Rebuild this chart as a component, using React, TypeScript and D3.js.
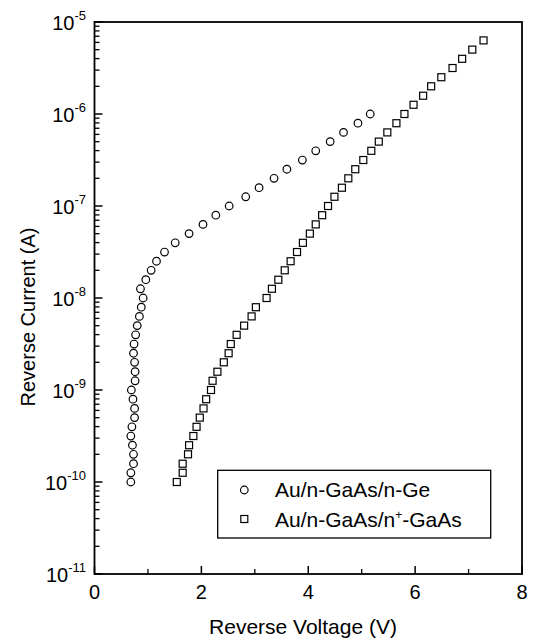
import React from "react";
import * as d3 from "d3";

// Au/n-GaAs/n-Ge (circles)
const geVoltage = [
  0.68, 0.68, 0.73, 0.73, 0.71, 0.68, 0.7, 0.75, 0.75, 0.72, 0.69, 0.76, 0.76,
  0.75, 0.73, 0.74, 0.77, 0.8, 0.84, 0.875, 0.91, 0.86, 0.96, 1.06, 1.16, 1.31,
  1.51, 1.77, 2.03, 2.27, 2.52, 2.83, 3.08, 3.36, 3.6, 3.89, 4.14, 4.41, 4.66,
  4.93, 5.16,
];
const geCurrent = [
  1.0e-10, 1.26e-10, 1.58e-10, 2.0e-10, 2.51e-10, 3.16e-10, 3.98e-10, 5.01e-10,
  6.31e-10, 7.94e-10, 1.0e-9, 1.26e-9, 1.58e-9, 2.0e-9, 2.51e-9, 3.16e-9,
  3.98e-9, 5.01e-9, 6.31e-9, 7.94e-9, 1.0e-8, 1.26e-8, 1.58e-8, 2.0e-8,
  2.51e-8, 3.16e-8, 3.98e-8, 5.01e-8, 6.31e-8, 7.94e-8, 1.0e-7, 1.26e-7,
  1.58e-7, 2.0e-7, 2.51e-7, 3.16e-7, 3.98e-7, 5.01e-7, 6.31e-7, 7.94e-7, 1.0e-6,
];

// Au/n-GaAs/n+-GaAs (squares)
const gaasVoltage = [
  1.54, 1.65, 1.65, 1.75, 1.77, 1.85, 1.91, 1.97, 2.04, 2.09, 2.18, 2.21, 2.3,
  2.42, 2.51, 2.55, 2.66, 2.8, 2.94, 3.02, 3.22, 3.32, 3.44, 3.56, 3.67, 3.79,
  3.9, 4.03, 4.14, 4.26, 4.37, 4.49, 4.63, 4.75, 4.88, 5.03, 5.18, 5.32, 5.48,
  5.65, 5.8, 5.97, 6.15, 6.3, 6.49, 6.7, 6.88, 7.07, 7.28,
];
const gaasCurrent = [
  1.0e-10, 1.26e-10, 1.58e-10, 2.0e-10, 2.51e-10, 3.16e-10, 3.98e-10, 5.01e-10,
  6.31e-10, 7.94e-10, 1.0e-9, 1.26e-9, 1.58e-9, 2.0e-9, 2.51e-9, 3.16e-9,
  3.98e-9, 5.01e-9, 6.31e-9, 7.94e-9, 1.0e-8, 1.26e-8, 1.58e-8, 2.0e-8,
  2.51e-8, 3.16e-8, 3.98e-8, 5.01e-8, 6.31e-8, 7.94e-8, 1.0e-7, 1.26e-7,
  1.58e-7, 2.0e-7, 2.51e-7, 3.16e-7, 3.98e-7, 5.01e-7, 6.31e-7, 7.94e-7, 1.0e-6,
  1.26e-6, 1.58e-6, 2.0e-6, 2.51e-6, 3.16e-6, 3.98e-6, 5.01e-6, 6.31e-6,
];

const xTicks = [0, 2, 4, 6, 8];
const xMinorTicks = [1, 3, 5, 7];
const yExponents = [-5, -6, -7, -8, -9, -10, -11];

const font = "'Liberation Sans', Arial, Helvetica, sans-serif";

const App = () => {
  const width = 534;
  const height = 640;
  const margin = { top: 22, right: 12, bottom: 66, left: 94.5 };

  const x = d3
    .scaleLinear()
    .domain([0, 8])
    .range([margin.left, width - margin.right]);
  const y = d3
    .scaleLog()
    .domain([1e-11, 1e-5])
    .range([height - margin.bottom, margin.top]);

  const [x0, x1] = x.range();
  const [yBottom, yTop] = y.range();

  // minor ticks for each decade: 2..9 x 10^k
  const yMinor: number[] = [];
  yExponents.slice(1).forEach((e) => {
    for (let m = 2; m <= 9; m++) yMinor.push(m * Math.pow(10, e));
  });

  const geData = geVoltage.map((v, i) => ({ v, c: geCurrent[i] }));
  const gaasData = gaasVoltage.map((v, i) => ({ v, c: gaasCurrent[i] }));

  const sq = 7;

  return (
    <svg
      width={width}
      height={height}
      style={{ position: "absolute", left: 0, top: 0, background: "#fff" }}
      fontFamily={font}
    >
      {/* frame */}
      <rect
        x={x0}
        y={yTop}
        width={x1 - x0}
        height={yBottom - yTop}
        fill="none"
        stroke="#000"
        strokeWidth={1.8}
      />

      {/* y ticks */}
      {yExponents.map((e) => (
        <g key={e}>
          <line
            x1={x0}
            x2={x0 + 8}
            y1={y(Math.pow(10, e))}
            y2={y(Math.pow(10, e))}
            stroke="#000"
            strokeWidth={1.5}
          />
          <text
            x={86}
            y={y(Math.pow(10, e)) + 7.5}
            textAnchor="end"
            fontSize={20}
          >
            10
            <tspan dy={-9.5} fontSize={13}>
              {e}
            </tspan>
          </text>
        </g>
      ))}
      {yMinor.map((d, i) => (
        <line
          key={i}
          x1={x0}
          x2={x0 + 5}
          y1={y(d)}
          y2={y(d)}
          stroke="#000"
          strokeWidth={1.3}
        />
      ))}

      {/* x ticks */}
      {xTicks.map((t) => (
        <g key={t}>
          <line
            x1={x(t)}
            x2={x(t)}
            y1={yBottom}
            y2={yBottom - 8}
            stroke="#000"
            strokeWidth={1.5}
          />
          <text x={x(t)} y={599} textAnchor="middle" fontSize={20}>
            {t}
          </text>
        </g>
      ))}
      {xMinorTicks.map((t) => (
        <line
          key={t}
          x1={x(t)}
          x2={x(t)}
          y1={yBottom}
          y2={yBottom - 5}
          stroke="#000"
          strokeWidth={1.3}
        />
      ))}

      {/* axis titles */}
      <text x={303} y={634} textAnchor="middle" fontSize={21}>
        Reverse Voltage (V)
      </text>
      <text
        transform={`translate(35,317) rotate(-90)`}
        textAnchor="middle"
        fontSize={20}
      >
        Reverse Current (A)
      </text>

      {/* data */}
      {geData.map((d, i) => (
        <circle
          key={i}
          cx={x(d.v)}
          cy={y(d.c)}
          r={3.8}
          fill="#fff"
          stroke="#000"
          strokeWidth={1.2}
        />
      ))}
      {gaasData.map((d, i) => (
        <rect
          key={i}
          x={x(d.v) - sq / 2}
          y={y(d.c) - sq / 2}
          width={sq}
          height={sq}
          fill="#fff"
          stroke="#000"
          strokeWidth={1.2}
        />
      ))}

      {/* legend */}
      <rect
        x={217.7}
        y={470.3}
        width={273}
        height={67.7}
        fill="#fff"
        stroke="#000"
        strokeWidth={1.3}
      />
      <circle
        cx={244.3}
        cy={490}
        r={3.8}
        fill="#fff"
        stroke="#000"
        strokeWidth={1.2}
      />
      <text x={275} y={497} fontSize={21}>
        Au/n-GaAs/n-Ge
      </text>
      <rect
        x={244.3 - sq / 2}
        y={519 - sq / 2}
        width={sq}
        height={sq}
        fill="#fff"
        stroke="#000"
        strokeWidth={1.2}
      />
      <text x={275} y={527} fontSize={21}>
        Au/n-GaAs/n
        <tspan dy={-8} fontSize={12}>
          +
        </tspan>
        <tspan dy={8}>-GaAs</tspan>
      </text>
    </svg>
  );
};

export default App;
